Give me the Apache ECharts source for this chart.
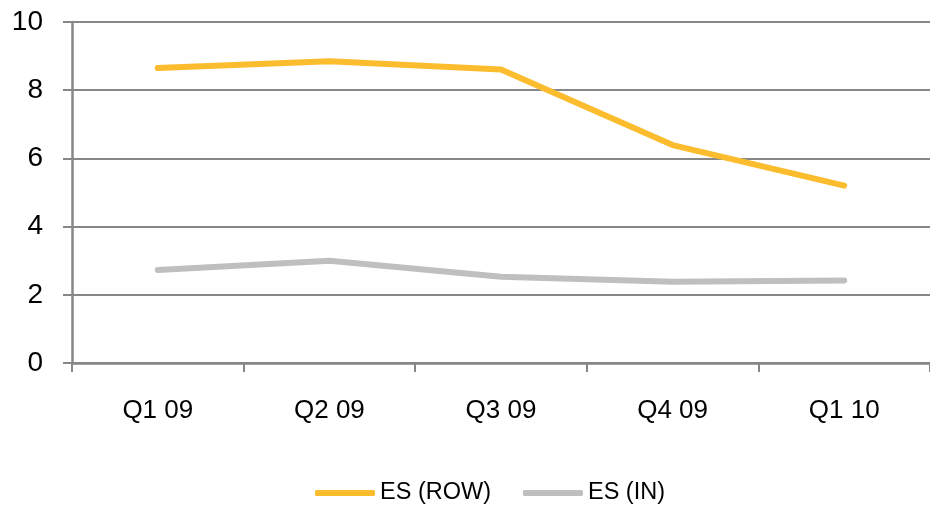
<!DOCTYPE html>
<html>
<head>
<meta charset="utf-8">
<script src="https://cdn.jsdelivr.net/npm/echarts@6/dist/echarts.min.js"></script>
<style>
  html, body { margin: 0; padding: 0; background: #fff; }
  #chart { width: 930px; height: 510px; }
</style>
</head>
<body>
<div id="chart"></div>
<script>
// Quarterly values for the two series
const categories = ['Q1 09', 'Q2 09', 'Q3 09', 'Q4 09', 'Q1 10'];
const esRow = [8.65, 8.85, 8.61, 6.39, 5.20];
const esIn = [2.73, 3.00, 2.53, 2.38, 2.42];
const seriesNames = ['ES (ROW)', 'ES (IN)'];

const FONT = '"Liberation Sans", Arial, sans-serif';
const GRID_COLOR = '#878787';

const chart = echarts.init(document.getElementById('chart'), null, { renderer: 'canvas' });

chart.setOption({
  animation: false,
  backgroundColor: '#ffffff',
  grid: { left: 72, right: -3, top: 22, bottom: 147, containLabel: false },
  legend: {
    bottom: 0,
    left: 310,
    itemWidth: 60,
    itemHeight: 6,
    itemGap: 32,
    icon: 'roundRect',
    textStyle: { fontFamily: FONT, fontSize: 23.5, color: '#000' },
    data: seriesNames
  },
  xAxis: {
    type: 'category',
    data: categories,
    boundaryGap: true,
    axisLine: { lineStyle: { color: GRID_COLOR, width: 2.5 } },
    axisTick: { show: true, length: 9, lineStyle: { color: GRID_COLOR, width: 2 } },
    axisLabel: { fontFamily: FONT, fontSize: 26, color: '#000', margin: 35 }
  },
  yAxis: {
    type: 'value',
    min: 0,
    max: 10,
    interval: 2,
    axisLine: { show: true, lineStyle: { color: GRID_COLOR, width: 2.5 } },
    axisTick: { show: true, length: 9, lineStyle: { color: GRID_COLOR, width: 2 } },
    splitLine: { lineStyle: { color: GRID_COLOR, width: 2 } },
    axisLabel: { fontFamily: FONT, fontSize: 28, color: '#000', margin: 29 }
  },
  series: [
    {
      name: seriesNames[0],
      type: 'line',
      data: esRow,
      symbol: 'none',
      lineStyle: { color: '#FBBC2E', width: 6, cap: 'round', join: 'round' },
      itemStyle: { color: '#FBBC2E' }
    },
    {
      name: seriesNames[1],
      type: 'line',
      data: esIn,
      symbol: 'none',
      lineStyle: { color: '#BFBFBF', width: 6, cap: 'round', join: 'round' },
      itemStyle: { color: '#BFBFBF' }
    }
  ]
});
</script>
</body>
</html>
